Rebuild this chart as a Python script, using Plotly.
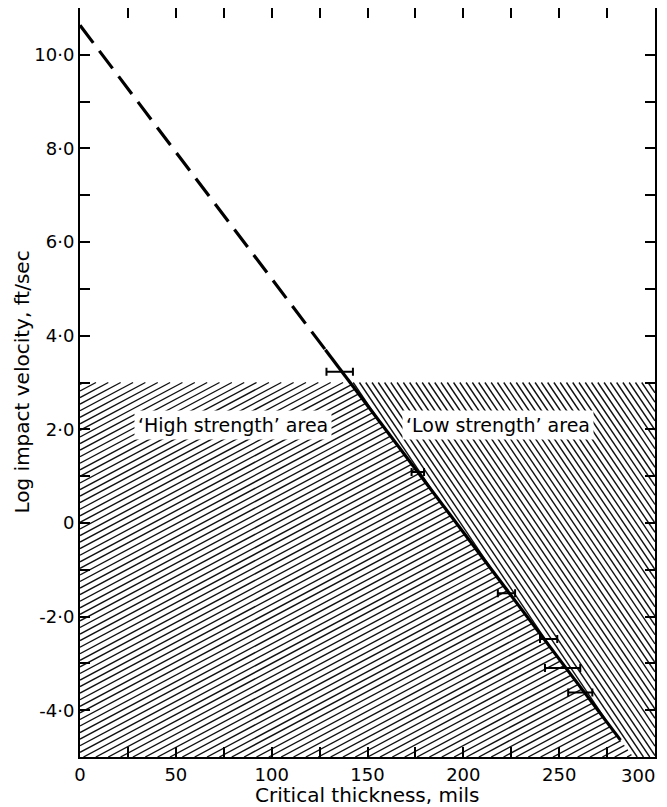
import numpy as np
import plotly.graph_objects as go

# ---------------- data ----------------
fit_dashed_x = [0, 128]
fit_dashed_y = [10.63, 3.70]
fit_solid_x = [128, 282]
fit_solid_y = [3.70, -4.64]

bar_x = [135.5, 176.5, 222.5, 244.5, 251.8, 261.0]
bar_y = [3.23, 1.09, -1.50, -2.48, -3.10, -3.62]
bar_minus = [6.9, 3.5, 4.5, 4.5, 9.2, 6.3]
bar_plus = [6.9, 3.0, 4.5, 4.5, 9.2, 6.3]

area_top = 3.0
x_range = [0, 300]
y_range = [-5, 11]

x_tick_vals = list(range(0, 301, 25))
# the last label (300) is drawn as an annotation so it stays inside the page
x_tick_text = [str(v) if (v % 50 == 0 and v < x_range[1]) else "" for v in x_tick_vals]
x_last_label = str(x_range[1])
y_tick_vals = list(range(-4, 11))
y_tick_text = [("0" if v == 0 else f"{v}\u00b70") if v % 2 == 0 else "" for v in y_tick_vals]

area_labels = ["\u2018High strength\u2019 area", "\u2018Low strength\u2019 area"]
area_label_x = [80, 218]
area_label_y = [2.1, 2.1]

x_title = "Critical thickness, mils"
y_title = "Log impact velocity, ft/sec"

# ---------------- layout geometry ----------------
# the page body adds an 8px offset, so the figure is 8px smaller
W, H = 659, 799
ML, MR, MT, MB = 72, 12, 0, 50
pw, ph = W - ML - MR, H - MT - MB
sx = pw / (x_range[1] - x_range[0])
sy = ph / (y_range[1] - y_range[0])

m = (fit_solid_y[-1] - fit_dashed_y[0]) / (fit_solid_x[-1] - fit_dashed_x[0])
b = fit_dashed_y[0]
def x_at(y):
    return (y - b) / m

left_poly = [(x_range[0], y_range[0]), (x_range[0], area_top), (x_at(area_top), area_top), (x_at(y_range[0]), y_range[0])]
right_poly = [(x_at(area_top), area_top), (x_range[1], area_top), (x_range[1], y_range[0]), (x_at(y_range[0]), y_range[0])]


def hatch(poly, angle_deg, spacing):
    P = np.array([(px * sx, py * sy) for px, py in poly])
    th = np.radians(angle_deg)
    d = np.array([np.cos(th), np.sin(th)])
    n = np.array([-np.sin(th), np.cos(th)])
    cs = P @ n
    xs, ys = [], []
    c = cs.min() + spacing / 2
    while c < cs.max():
        p0 = c * n
        ts = []
        for i in range(len(P)):
            a, bb = P[i], P[(i + 1) % len(P)]
            e = bb - a
            M = np.array([[d[0], -e[0]], [d[1], -e[1]]])
            det = np.linalg.det(M)
            if abs(det) < 1e-12:
                continue
            t, s = np.linalg.solve(M, a - p0)
            if -1e-9 <= s <= 1 + 1e-9:
                ts.append(t)
        if len(ts) >= 2:
            t0, t1 = min(ts), max(ts)
            q0, q1 = p0 + t0 * d, p0 + t1 * d
            xs += [q0[0] / sx, q1[0] / sx, None]
            ys += [q0[1] / sy, q1[1] / sy, None]
        c += spacing
    return xs, ys

lx, ly = hatch(left_poly, 28, 5.8)
rx, ry = hatch(right_poly, -56, 5.2)

fig = go.Figure()
fig.add_trace(go.Scatter(x=lx, y=ly, mode="lines", line=dict(color="#111", width=1.4), hoverinfo="skip"))
fig.add_trace(go.Scatter(x=rx, y=ry, mode="lines", line=dict(color="#111", width=1.4), hoverinfo="skip"))

fig.add_trace(go.Scatter(x=fit_dashed_x, y=fit_dashed_y, mode="lines",
                         line=dict(color="black", width=3.2, dash="22px,10px")))
fig.add_trace(go.Scatter(x=fit_solid_x, y=fit_solid_y, mode="lines",
                         line=dict(color="black", width=3.2)))
fig.add_trace(go.Scatter(x=bar_x, y=bar_y, mode="markers",
                         marker=dict(size=1, color="rgba(0,0,0,0)"),
                         error_x=dict(type="data", symmetric=False, array=bar_plus, arrayminus=bar_minus,
                                      thickness=2, width=4, color="black")))

for t, x, y in zip(area_labels, area_label_x, area_label_y):
    fig.add_annotation(x=x, y=y, text=t, showarrow=False, bgcolor="white", borderpad=3,
                       font=dict(family="DejaVu Sans", size=19, color="black"))

fig.add_annotation(x=x_range[1], y=0, xref="x", yref="paper", xanchor="right", xshift=2,
                   yanchor="middle", yshift=-18, text=x_last_label, showarrow=False,
                   font=dict(family="DejaVu Sans", size=18, color="black"))

fig.add_annotation(x=0.5, y=0, xref="paper", yref="paper", yshift=-38, yanchor="middle",
                   text=x_title, showarrow=False,
                   font=dict(family="DejaVu Sans", size=20, color="black"))
fig.add_annotation(x=0, y=0.5, xref="paper", yref="paper", xshift=-59, xanchor="center",
                   text=y_title, showarrow=False, textangle=-90,
                   font=dict(family="DejaVu Sans", size=20, color="black"))

axis_common = dict(showline=True, linecolor="black", linewidth=2, mirror="ticks",
                   ticks="inside", ticklen=10, tickwidth=1.5, tickcolor="black",
                   showgrid=False, zeroline=False, automargin=False,
                   tickfont=dict(family="DejaVu Sans", size=18, color="black"))

fig.update_xaxes(range=x_range, tickmode="array", tickvals=x_tick_vals, ticktext=x_tick_text, **axis_common)
fig.update_yaxes(range=y_range, tickmode="array", tickvals=y_tick_vals, ticktext=y_tick_text, **axis_common)

fig.update_layout(width=W, height=H, margin=dict(l=ML, r=MR, t=MT, b=MB, autoexpand=False),
                  plot_bgcolor="white", paper_bgcolor="white", showlegend=False)

fig.write_html("out.html")
